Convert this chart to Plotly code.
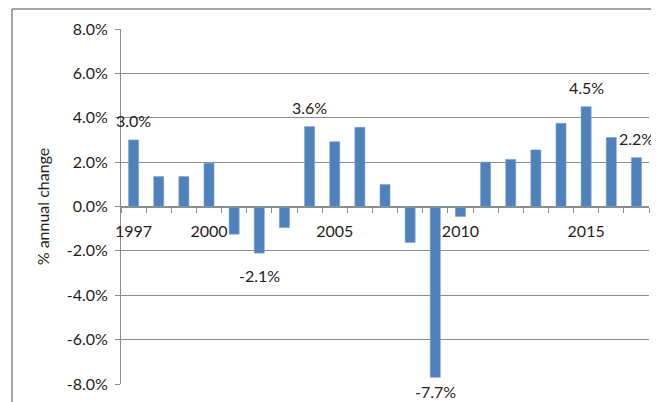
import plotly.graph_objects as go

years = list(range(1997, 2018))
values = [3.0, 1.35, 1.35, 1.95, -1.25, -2.1, -0.95, 3.6, 2.92, 3.57, 0.99,
          -1.62, -7.7, -0.45, 2.0, 2.12, 2.55, 3.75, 4.5, 3.11, 2.2]
label_years = [1997, 2002, 2004, 2009, 2015, 2017]
label_shifts = [19, -22, 19, -14, 19, 19]
tick_years = [1997, 2000, 2005, 2010, 2015]
y_ticks = [-8, -6, -4, -2, 0, 2, 4, 6, 8]

FONT = "Lato"
FS = 16
GRID = "#8c8c8c"
BAR = "#4f81bd"
TXT = "#1e1e1e"

fig = go.Figure()
fig.add_trace(go.Bar(x=years, y=values, marker=dict(color=BAR, line=dict(color="#7aa0d0", width=0.6)),
                     width=0.4, showlegend=False, hoverinfo="skip"))
# invisible trace to activate xaxis2
fig.add_trace(go.Scatter(x=[years[0]], y=[0], xaxis="x2", mode="markers",
                         marker=dict(opacity=0), showlegend=False, hoverinfo="skip"))

for yr, sh in zip(label_years, label_shifts):
    v = values[years.index(yr)]
    fig.add_annotation(x=yr, y=v, text=f"{v:.1f}%", showarrow=False, yshift=sh,
                       font=dict(family=FONT, size=FS, color=TXT))

xr = [years[0] - 0.5, years[-1] + 0.5]
fig.update_layout(
    width=651, height=394,
    margin=dict(l=113, r=10, t=21, b=18, autoexpand=False),
    paper_bgcolor="white", plot_bgcolor="white",
    font=dict(family=FONT, size=FS, color=TXT),
    xaxis=dict(range=xr, tickvals=tick_years, ticktext=[str(t) for t in tick_years],
               anchor="free", position=0.5, showgrid=False, zeroline=False,
               ticks="outside", ticklen=10, tickcolor="rgba(0,0,0,0)", showline=False,
               automargin=False,
               tickfont=dict(family=FONT, size=FS, color=TXT)),
    xaxis2=dict(range=xr, overlaying="x", anchor="free", position=0.5,
                tickvals=[years[0] - 0.5] + [y + 0.5 for y in years],
                showticklabels=False, ticks="outside", ticklen=5, tickcolor=GRID,
                automargin=False,
                showline=True, linecolor=GRID, linewidth=1, showgrid=False, zeroline=False),
    yaxis=dict(range=[-8, 8], tickvals=y_ticks, ticktext=[f"{t:.1f}%" for t in y_ticks],
               showgrid=True, gridcolor=GRID, gridwidth=1, zeroline=False,
               showline=True, linecolor=GRID, linewidth=1, ticks="outside", ticklen=5,
               tickcolor=GRID, automargin=False, ticklabelstandoff=4,
               title=dict(text="% annual change", font=dict(family=FONT, size=FS, color=TXT),
                          standoff=13),
               tickfont=dict(family=FONT, size=FS, color=TXT)),
    bargap=0.6,
)

# outer chart frame (left and top edges visible)
fx = (12 - 121) / 528
fy = (384 - 9) / 355
fig.add_shape(type="line", xref="paper", yref="paper", x0=fx, x1=fx, y0=-0.2, y1=fy,
              line=dict(color="#8a8a8a", width=1.5))
fig.add_shape(type="line", xref="paper", yref="paper", x0=fx, x1=1.1, y0=fy, y1=fy,
              line=dict(color="#8a8a8a", width=1.5))

fig.write_html("out.html")
